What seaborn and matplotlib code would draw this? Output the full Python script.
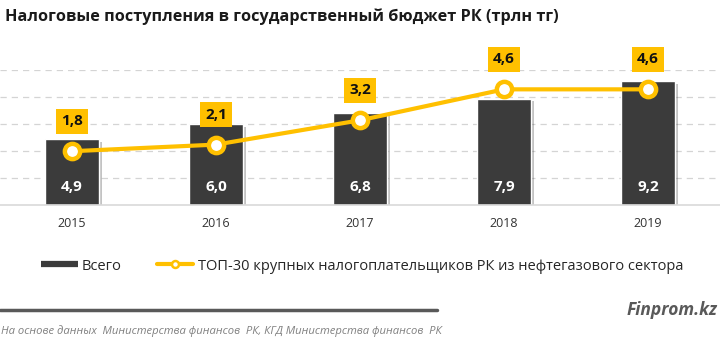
import matplotlib
matplotlib.use("Agg")
import matplotlib.pyplot as plt
import matplotlib.patheffects as pe
from matplotlib.lines import Line2D
import seaborn as sns
import pandas as pd

years = ["2015", "2016", "2017", "2018", "2019"]
total = [4.9, 6.0, 6.8, 7.9, 9.2]
top30 = [1.8, 2.1, 3.2, 4.6, 4.6]
total_labels = ["4,9", "6,0", "6,8", "7,9", "9,2"]
top30_labels = ["1,8", "2,1", "3,2", "4,6", "4,6"]

title = "Налоговые поступления в государственный бюджет РК (трлн тг)"
legend_bar = "Всего"
legend_line = "ТОП-30 крупных налогоплательщиков РК из нефтегазового сектора"
brand = "Finprom.kz"
source = "На основе данных  Министерства финансов  РК, КГД Министерства финансов  РК"

sns.set_theme(style="white")
plt.rcParams["font.family"] = ["Open Sans", "DejaVu Sans"]

BAR = "#3b3b3b"
GOLD = "#FFC000"

df = pd.DataFrame({"year": years, "total": total, "top30": top30})

fig = plt.figure(figsize=(7.2, 3.44), dpi=100)
ax = fig.add_axes([0, 1 - 205 / 344, 1, 135 / 344])

sns.barplot(data=df, x="year", y="total", color=BAR, saturation=1, width=0.38, ax=ax)
for p in ax.patches:
    p.set_path_effects([pe.SimplePatchShadow(offset=(2, -2), alpha=0.25), pe.Normal()])
ax.set_ylim(0, 10.02)
ax.set_xlim(-0.5, 4.5)
ax.set_yticks([2, 4, 6, 8, 10])
ax.yaxis.grid(True, linestyle=(0, (5, 4)), color="#d4d4d4", lw=0.9)
ax.set_axisbelow(True)
ax.tick_params(axis="y", length=0, labelleft=False)
ax.tick_params(axis="x", length=0, pad=9, labelsize=9, labelcolor="#333333")
for s in ["top", "left", "right"]:
    ax.spines[s].set_visible(False)
ax.spines["bottom"].set_color("#d9d9d9")
ax.spines["bottom"].set_linewidth(1.2)
ax.set_xlabel("")
ax.set_ylabel("")

for i, lab in enumerate(total_labels):
    ax.text(i, 1.33, lab, ha="center", va="center", color="white",
            fontsize=11, fontweight="bold", zorder=5)

ax2 = ax.twinx()
sns.lineplot(data=df, x="year", y="top30", ax=ax2, color=GOLD, lw=3, sort=False,
             marker="o", markersize=11, markerfacecolor="white",
             markeredgecolor=GOLD, markeredgewidth=3.2, zorder=6)
ax2.set_ylim(-0.633, 5.475)
ax2.set_xlim(-0.5, 4.5)
ax2.axis("off")
for i, (v, lab) in enumerate(zip(top30, top30_labels)):
    ax2.annotate(lab, (i, v), xytext=(0, 21.5), textcoords="offset points",
                 ha="center", va="center", fontsize=11, fontweight="bold",
                 color="#111111", zorder=7, annotation_clip=False,
                 bbox=dict(boxstyle="square,pad=0.35", fc=GOLD, ec="none"))

handles = [
    Line2D([], [], color=BAR, lw=4.5, solid_capstyle="butt"),
    Line2D([], [], color=GOLD, lw=3, marker="o", markersize=5,
           markerfacecolor="white", markeredgecolor=GOLD, markeredgewidth=1.8),
]
fig.legend(handles, [legend_bar, legend_line], loc="center",
           bbox_to_anchor=(0.503, 1 - 266 / 344), ncol=2, frameon=False,
           fontsize=10.5, columnspacing=2.4, handlelength=2.5, handletextpad=0.3)

fig.text(0.007, 1 - 17 / 344, title, fontsize=11.7, fontweight="bold",
         color="#1a1a1a", va="center", ha="left")

fig.add_artist(Line2D([0, 437 / 720], [1 - 310 / 344] * 2, color="#595959", lw=2.5))
fig.text(0.997, 1 - 310 / 344, brand, fontsize=12.5, fontweight="bold",
         fontstyle="italic", color="#595959", ha="right", va="center")
fig.text(0.002, 1 - 331 / 344, source, fontsize=8.1, fontstyle="italic",
         color="#808080", ha="left", va="center")

fig.savefig("out.png", dpi=100)
